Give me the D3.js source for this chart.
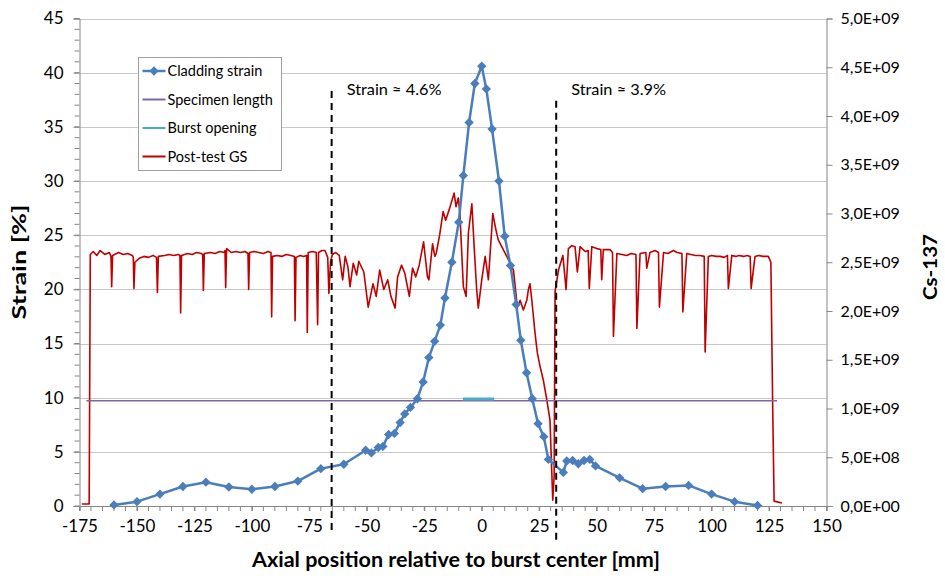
<!DOCTYPE html>
<html>
<head>
<meta charset="utf-8">
<script src="https://cdn.jsdelivr.net/npm/d3@7"></script>
<style>
  body { margin: 0; background: #fff; }
  text { font-family: Lato, "Open Sans", sans-serif; fill: #000; }
</style>
</head>
<body>
<div id="chart"></div>
<script>
//
// Cladding strain vs post-test gamma scan (Cs-137)
//

// cladding strain series [mm, %]
var strainX = [-160, -150, -140, -130, -120, -110, -100, -90, -80, -70, -60, -50.5, -48, -45, -43, -40.5, -38, -35.5, -33.5, -31, -28, -25.5, -23, -20.5, -18, -16, -13, -10, -8, -5.5, -3, 0, 2, 4.5, 7.5, 10, 12.5, 15, 17, 19.5, 22, 24.5, 27, 29, 35.5, 37, 39.5, 42, 44.5, 47, 49.5, 60, 70, 80, 90, 100, 110, 120];
var strainY = [0.1, 0.4, 1.1, 1.8, 2.2, 1.75, 1.55, 1.8, 2.3, 3.45, 3.85, 5.15, 4.9, 5.4, 5.5, 6.6, 6.7, 7.7, 8.5, 9.1, 9.9, 11.45, 13.7, 15.2, 16.7, 19.2, 22.5, 26.2, 30.5, 35.4, 39.0, 40.6, 38.5, 34.8, 30.0, 24.9, 22.2, 18.6, 15.3, 12.3, 9.9, 7.6, 6.4, 4.3, 3.1, 4.15, 4.2, 3.9, 4.2, 4.3, 3.7, 2.6, 1.6, 1.8, 1.9, 1.1, 0.4, 0.05];

// specimen length and burst opening [mm] at strain level
var specimenX = [-172, 128.5];
var specimenY = [9.72, 9.72];
var burstX = [-8.2, 5.4];
var burstY = [9.88, 9.88];

// post-test gamma scan, Cs-137 in units of 1E+09
var gsX = [-174, -170.8, -170.3, -169, -167.5, -166, -164, -162, -161.3, -161, -160.6, -158, -156, -154, -152, -151.6, -151.3, -150.9, -149, -147, -145, -143, -141.5, -141.1, -140.7, -138, -136, -134, -132, -131.3, -131, -130.6, -128, -126, -124, -122, -121.4, -121.1, -120.7, -118, -116, -114, -112, -111.7, -111.4, -111, -109, -107, -105, -103, -101.7, -101.4, -101, -99, -97, -95, -93, -91.7, -91.4, -91, -89, -87, -85, -83, -81.5, -81.2, -80.8, -79, -77.5, -76.2, -75.9, -75.5, -73.5, -72, -71.4, -71, -69.5, -68.2, -67, -66.5, -65.8, -65, -63.5, -62, -60.5, -59.4, -58.2, -57.3, -55.9, -54.4, -53.5, -51.3, -49.4, -47.3, -45.9, -44.4, -42.6, -40.9, -39.5, -37.7, -36.6, -34.9, -33.5, -31.5, -30.1, -28.7, -27.2, -25.3, -23.6, -23, -21.4, -20.4, -19.8, -18.3, -16.8, -15.7, -14, -12, -11.2, -10.2, -9.5, -8, -6.8, -5.8, -4.3, -3.3, -2.2, -1.5, 0, 1.5, 2.9, 4.8, 6.2, 7.2, 8.7, 10.9, 13.8, 15.5, 16.7, 18.1, 19.6, 20.3, 21, 21.8, 23.2, 24.2, 25.4, 26.8, 28.3, 29.7, 30.9, 31.5, 31.9, 33.4, 35.3, 36.7, 37.7, 39.2, 40.6, 41.6, 42.8, 45, 46.3, 46.8, 47.9, 50.1, 51.8, 52.2, 52.9, 55.8, 56.9, 57.3, 58.8, 61, 63.1, 65, 67.1, 67.5, 68.9, 71.4, 71.8, 73.2, 75.4, 76.9, 77.3, 79.1, 81, 83.4, 85, 87.1, 87.5, 89.2, 91, 93, 95, 96.8, 97.2, 98.6, 100, 102, 103.7, 105.5, 106.9, 107.3, 108.8, 110.5, 112, 113.9, 115.5, 116.8, 117.2, 118.9, 120.5, 122.5, 124.7, 125.8, 126.6, 127.2, 130.6];
var gsY = [0.02, 0.02, 2.58, 2.61, 2.57, 2.62, 2.58, 2.6, 2.56, 2.25, 2.57, 2.6, 2.58, 2.59, 2.57, 2.55, 2.23, 2.5, 2.54, 2.56, 2.55, 2.57, 2.55, 2.19, 2.56, 2.57, 2.58, 2.57, 2.58, 2.57, 1.98, 2.57, 2.59, 2.58, 2.6, 2.59, 2.58, 2.21, 2.59, 2.6, 2.59, 2.61, 2.6, 2.62, 2.24, 2.64, 2.6, 2.61, 2.6, 2.61, 2.59, 2.22, 2.6, 2.61, 2.6, 2.59, 2.61, 2.6, 1.94, 2.56, 2.57, 2.56, 2.58, 2.57, 2.56, 1.90, 2.55, 2.57, 2.56, 2.57, 1.78, 2.6, 2.61, 2.6, 1.86, 2.6, 2.62, 2.62, 2.55, 2.18, 2.5, 2.58, 2.6, 2.57, 2.32, 2.56, 2.45, 2.25, 2.49, 2.37, 2.51, 2.40, 2.04, 2.28, 2.15, 2.42, 2.22, 2.32, 2.15, 2.03, 2.35, 2.47, 2.39, 2.15, 2.44, 2.35, 2.47, 2.71, 2.35, 2.32, 2.69, 2.56, 2.59, 2.78, 3.02, 2.93, 3.05, 3.21, 3.07, 3.16, 3.0, 2.25, 2.15, 2.80, 3.10, 2.66, 2.22, 2.03, 2.32, 2.56, 2.32, 3.0, 2.83, 2.73, 2.66, 2.56, 2.42, 2.04, 2.11, 2.01, 2.11, 2.22, 2.28, 2.11, 1.77, 1.57, 1.43, 1.29, 1.09, 0.88, 0.06, 0.3, 2.2, 2.42, 2.57, 2.22, 2.64, 2.67, 2.66, 2.40, 2.66, 2.61, 2.62, 2.23, 2.66, 2.64, 2.63, 2.32, 2.63, 2.63, 2.6, 1.74, 2.59, 2.58, 2.57, 2.59, 2.58, 1.82, 2.59, 2.6, 2.44, 2.6, 2.62, 2.6, 2.04, 2.6, 2.59, 2.62, 2.6, 2.59, 1.99, 2.59, 2.58, 2.57, 2.57, 2.56, 1.58, 2.56, 2.57, 2.56, 2.56, 2.55, 2.57, 2.23, 2.57, 2.56, 2.57, 2.56, 2.57, 2.56, 2.23, 2.56, 2.57, 2.56, 2.56, 2.50, 1.0, 0.05, 0.03];

// dashed markers
var annoX = [-65.3, 32.4];
var annoTop = [38.3, 37.4];
var annoLabel = ["Strain \u2248 4.6%", "Strain \u2248 3.9%"];

var xTicks = [-175, -150, -125, -100, -75, -50, -25, 0, 25, 50, 75, 100, 125, 150];
var yTicks = [0, 5, 10, 15, 20, 25, 30, 35, 40, 45];
var y2Ticks = [0, 0.5e9, 1e9, 1.5e9, 2e9, 2.5e9, 3e9, 3.5e9, 4e9, 4.5e9, 5e9];

var legendNames = ["Cladding strain", "Specimen length", "Burst opening", "Post-test GS"];
var legendColors = ["#4A7EBB", "#8064A2", "#4BACC6", "#C00000"];

var width = 945, height = 578;
var plotLeft = 79.5, plotRight = 826.5, plotTop = 18.5, plotBottom = 506;
var axisColor = "#868686";

var svg = d3.select("#chart").append("svg")
    .attr("width", width)
    .attr("height", height);

var x = d3.scaleLinear().domain([-175, 150]).range([plotLeft, plotRight]);
var y = d3.scaleLinear().domain([0, 45]).range([plotBottom, plotTop]);
var y2 = d3.scaleLinear().domain([0, 5e9]).range([plotBottom, plotTop]);

function sciComma(v) {
    if (v == 0) return "0,0E+00";
    var e = Math.floor(Math.log10(v));
    var m = v / Math.pow(10, e);
    return m.toFixed(1).replace(".", ",") + "E+" + (e < 10 ? "0" + e : e);
}

// gridlines
svg.append("g")
    .selectAll("line")
    .data(yTicks.slice(1))
    .enter()
    .append("line")
    .attr("x1", plotLeft).attr("x2", plotRight)
    .attr("y1", function (d) { return Math.round(y(d)) + 0.5; })
    .attr("y2", function (d) { return Math.round(y(d)) + 0.5; })
    .attr("stroke", "#c8c8c8")
    .attr("stroke-width", 1);

// left axis (minor ticks every 1)
var yAxis = d3.axisLeft(y).tickValues(yTicks).tickSize(6).tickPadding(10);
var gy = svg.append("g")
    .attr("transform", "translate(" + plotLeft + ",0)")
    .call(yAxis);
gy.append("g").selectAll("line")
    .data(d3.range(0, 46, 1))
    .enter().append("line")
    .attr("x1", -5).attr("x2", 0)
    .attr("y1", function (d) { return y(d); })
    .attr("y2", function (d) { return y(d); })
    .attr("stroke", axisColor);

// right axis
var y2Axis = d3.axisRight(y2).tickValues(y2Ticks).tickSize(6).tickPadding(8).tickFormat(sciComma);
var gy2 = svg.append("g")
    .attr("transform", "translate(" + plotRight + ",0)")
    .call(y2Axis);

// x axis (minor ticks every 5)
var xAxis = d3.axisBottom(x).tickValues(xTicks).tickSize(5).tickPadding(9).tickFormat(function (d) { return String(d); });
var gx = svg.append("g")
    .attr("transform", "translate(0," + plotBottom + ")")
    .call(xAxis);
gx.append("g").selectAll("line")
    .data(d3.range(-175, 151, 5))
    .enter().append("line")
    .attr("x1", function (d) { return x(d); })
    .attr("x2", function (d) { return x(d); })
    .attr("y1", 0).attr("y2", 5)
    .attr("stroke", axisColor);

[gx, gy, gy2].forEach(function (g) {
    g.selectAll(".domain").attr("stroke", axisColor);
    g.selectAll(".tick line").attr("stroke", axisColor);
    g.selectAll(".tick text")
        .style("font-family", "Lato, sans-serif")
        .style("font-size", "17px")
        .attr("fill", "#000");
});
gy2.selectAll(".tick text").style("font-size", "16px");

// post-test GS (secondary axis)
var gsData = gsX.map(function (d, i) { return [d, gsY[i] * 1e9]; });
svg.append("path")
    .datum(gsData)
    .attr("fill", "none")
    .attr("stroke", "#C00000")
    .attr("stroke-width", 1.6)
    .attr("stroke-linejoin", "round")
    .attr("d", d3.line().x(function (d) { return x(d[0]); }).y(function (d) { return y2(d[1]); }));

// specimen length
svg.append("line")
    .attr("x1", x(specimenX[0])).attr("x2", x(specimenX[1]))
    .attr("y1", y(specimenY[0])).attr("y2", y(specimenY[1]))
    .attr("stroke", "#8064A2")
    .attr("stroke-width", 1.5);

// burst opening
svg.append("line")
    .attr("x1", x(burstX[0])).attr("x2", x(burstX[1]))
    .attr("y1", y(burstY[0])).attr("y2", y(burstY[1]))
    .attr("stroke", "#4BACC6")
    .attr("stroke-width", 3);

// cladding strain
var strainData = strainX.map(function (d, i) { return [d, strainY[i]]; });
svg.append("path")
    .datum(strainData)
    .attr("fill", "none")
    .attr("stroke", "#4A7EBB")
    .attr("stroke-width", 2.5)
    .attr("stroke-linejoin", "round")
    .attr("d", d3.line().x(function (d) { return x(d[0]); }).y(function (d) { return y(d[1]); }));

var diamond = d3.symbol().type(d3.symbolDiamond2).size(56);
svg.append("g")
    .selectAll("path")
    .data(strainData)
    .enter()
    .append("path")
    .attr("d", diamond)
    .attr("transform", function (d) { return "translate(" + x(d[0]) + "," + y(d[1]) + ")"; })
    .attr("fill", "#4A7EBB");

// dashed markers + labels
annoX.forEach(function (a, i) {
    svg.append("line")
        .attr("x1", x(a)).attr("x2", x(a))
        .attr("y1", y(annoTop[i])).attr("y2", plotBottom + (i == 0 ? 24 : 36))
        .attr("stroke", "#000")
        .attr("stroke-width", 2)
        .attr("stroke-dasharray", "7,5");
    svg.append("text")
        .attr("x", x(a) + 15)
        .attr("y", 95)
        .attr("textLength", 95)
        .attr("lengthAdjust", "spacingAndGlyphs")
        .style("font-size", "15px")
        .text(annoLabel[i]);
});

// legend
var lg = svg.append("g").attr("transform", "translate(138.5,57.5)");
lg.append("rect")
    .attr("width", 143).attr("height", 113)
    .attr("fill", "#fff")
    .attr("stroke", "#a0a0a0");
legendNames.forEach(function (n, i) {
    var yy = 13.5 + i * 28.5;
    lg.append("line")
        .attr("x1", 4).attr("x2", 27)
        .attr("y1", yy).attr("y2", yy)
        .attr("stroke", legendColors[i])
        .attr("stroke-width", i == 0 ? 2.5 : 2);
    if (i == 0) {
        lg.append("path")
            .attr("d", diamond)
            .attr("transform", "translate(15.5," + yy + ")")
            .attr("fill", legendColors[i]);
    }
    lg.append("text")
        .attr("x", 29)
        .attr("y", yy + 5)
        .style("font-size", "14.5px")
        .text(n);
});

// axis titles
svg.append("text")
    .attr("transform", "translate(26,262) rotate(-90)")
    .attr("text-anchor", "middle")
    .attr("textLength", 115)
    .attr("lengthAdjust", "spacingAndGlyphs")
    .style("font-size", "19px")
    .style("font-weight", "bold")
    .text("Strain [%]");

svg.append("text")
    .attr("transform", "translate(937,267) rotate(-90)")
    .attr("text-anchor", "middle")
    .attr("textLength", 66)
    .attr("lengthAdjust", "spacingAndGlyphs")
    .style("font-size", "19px")
    .style("font-weight", "bold")
    .text("Cs-137");

svg.append("text")
    .attr("x", 456)
    .attr("y", 567)
    .attr("text-anchor", "middle")
    .attr("textLength", 408)
    .attr("lengthAdjust", "spacingAndGlyphs")
    .style("font-size", "20px")
    .style("font-weight", "bold")
    .text("Axial position relative to burst center [mm]");
</script>
</body>
</html>
